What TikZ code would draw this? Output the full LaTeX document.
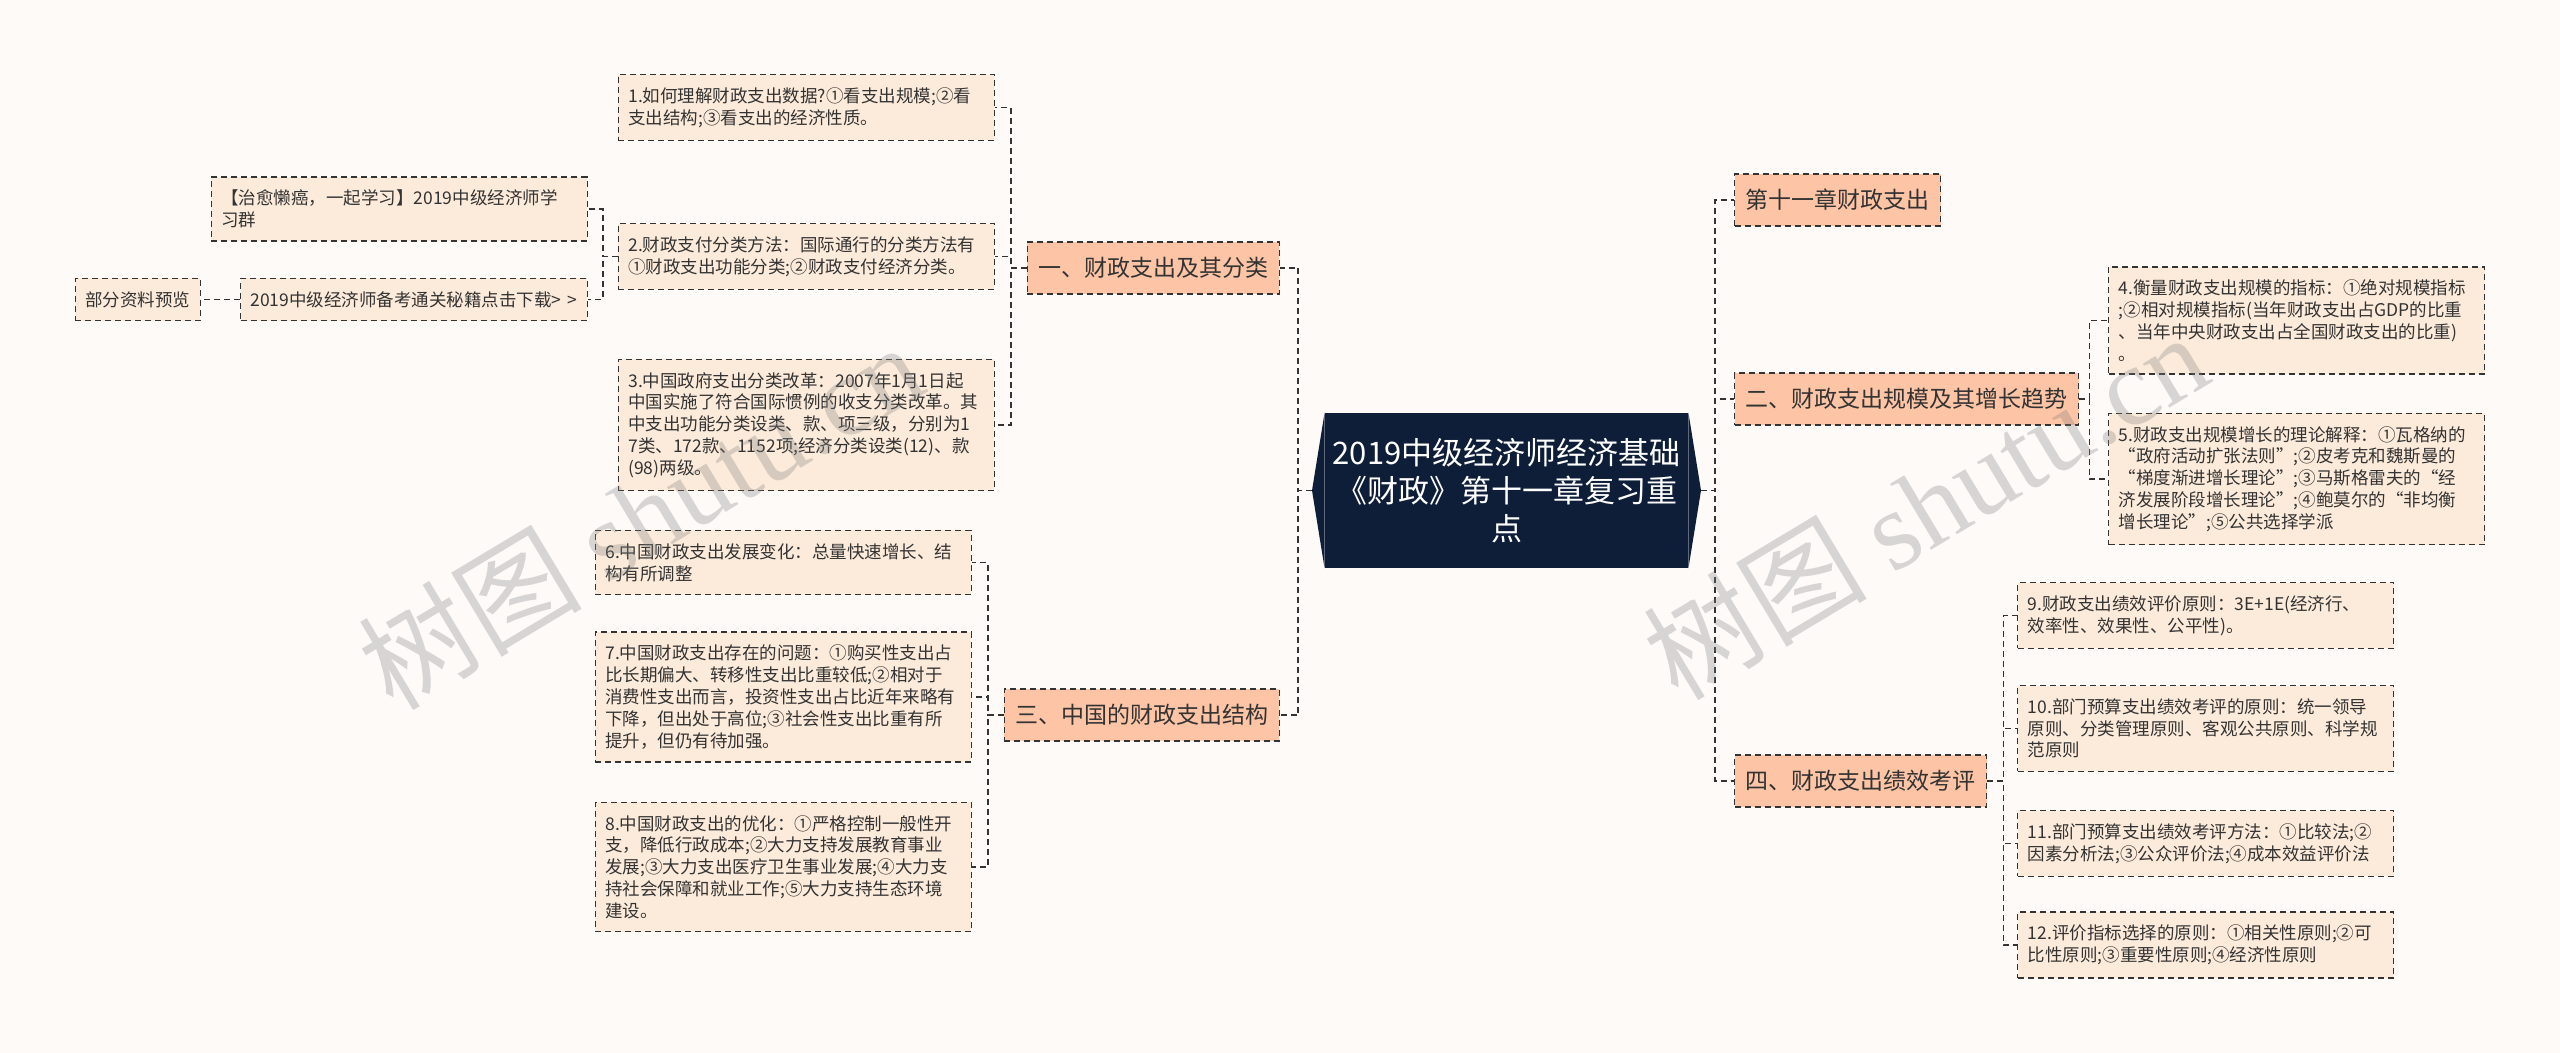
\documentclass[tikz,border=0pt]{standalone}
\usepackage{fontspec}
\setmainfont{Noto Sans CJK SC}
\newfontfamily\wmfont{Liberation Serif}
\usepackage{tikz}
\definecolor{bgc}{HTML}{FDFAF8}
\definecolor{leafc}{HTML}{FCEBDA}
\definecolor{branchc}{HTML}{FDC4A5}
\definecolor{rootc}{HTML}{0E1E38}
\definecolor{linec}{HTML}{333333}

\begin{document}
\begin{tikzpicture}[x=0.5pt,y=-0.5pt,
  leaf/.style={draw=linec,fill=leafc,dashed,dash pattern=on 3pt off 2pt,line width=.7pt,
    text=linec,font=\fontsize{8.75}{10.9}\selectfont,align=left,inner xsep=5pt,inner ysep=6.5pt},
  wide/.style={text width=178pt},
  branch/.style={draw=linec,fill=branchc,dashed,dash pattern=on 3pt off 2pt,line width=.7pt,
    text=linec,font=\fontsize{11.5}{13}\selectfont,inner xsep=5.5pt,minimum height=26pt},
  link/.style={draw=linec,dashed,dash pattern=on 3pt off 2pt,line width=.9pt},
  mark/.style={rotate=31,text=gray,text opacity=.3,font=\fontsize{56}{56}\selectfont}]
\useasboundingbox[fill=bgc](0,0)rectangle(2560,1053);
%root
\node[fill=rootc,text=white,minimum width=181.5pt,minimum height=77.5pt,text width=176pt,
  align=center,inner sep=2pt,font=\fontsize{15.5}{19}\selectfont] (root) at(1506.5,490.5)
  {2019中级经济师经济基础\\《财政》第十一章复习重\\点};
\coordinate (rootL) at(1312,490.5);
\coordinate (rootR) at(1701,490.5);
\fill[rootc](root.north west)--(rootL)--(root.south west)--cycle;
\fill[rootc](root.north east)--(rootR)--(root.south east)--cycle;
%branches
\node[branch,anchor=east] (b1) at(1280,268){一、财政支出及其分类};
\node[branch,anchor=east] (b3) at(1280,715){三、中国的财政支出结构};
\node[branch,anchor=west] (b0) at(1734,200){第十一章财政支出};
\node[branch,anchor=west] (b2) at(1734,399){二、财政支出规模及其增长趋势};
\node[branch,anchor=west] (b4) at(1734,781){四、财政支出绩效考评};
%left leaves
\node[leaf,wide,anchor=east] (l1) at(995,107.5){1.如何理解财政支出数据?①看支出规模;②看\\支出结构;③看支出的经济性质。};
\node[leaf,wide,anchor=east] (l2) at(995,256.5){2.财政支付分类方法：国际通行的分类方法有\\①财政支出功能分类;②财政支付经济分类。};
\node[leaf,wide,anchor=east] (l3) at(995,425){3.中国政府支出分类改革：2007年1月1日起\\中国实施了符合国际惯例的收支分类改革。其\\中支出功能分类设类、款、项三级，分别为1\\7类、172款、1152项;经济分类设类(12)、款\\(98)两级。};
\node[leaf,wide,anchor=east] (g1) at(588,209){【治愈懒癌，一起学习】2019中级经济师学\\习群};
\node[leaf,anchor=east] (g2) at(588,299.5){2019中级经济师备考通关秘籍点击下载>\hspace{3pt}>};
\node[leaf,anchor=east] (g0) at(201,299.5){部分资料预览};
\node[leaf,wide,anchor=east] (l6) at(972,562.5){6.中国财政支出发展变化：总量快速增长、结\\构有所调整};
\node[leaf,wide,anchor=east] (l7) at(972,697){7.中国财政支出存在的问题：①购买性支出占\\比长期偏大、转移性支出比重较低;②相对于\\消费性支出而言，投资性支出占比近年来略有\\下降，但出处于高位;③社会性支出比重有所\\提升，但仍有待加强。};
\node[leaf,wide,anchor=east] (l8) at(972,867){8.中国财政支出的优化：①严格控制一般性开\\支，降低行政成本;②大力支持发展教育事业\\发展;③大力支出医疗卫生事业发展;④大力支\\持社会保障和就业工作;⑤大力支持生态环境\\建设。};
%right leaves
\node[leaf,wide,anchor=west] (r4) at(2108,320.5){4.衡量财政支出规模的指标：①绝对规模指标\\;②相对规模指标(当年财政支出占GDP的比重\\、当年中央财政支出占全国财政支出的比重)\\。};
\node[leaf,wide,anchor=west] (r5) at(2108,479){5.财政支出规模增长的理论解释：①瓦格纳的\\“政府活动扩张法则”;②皮考克和魏斯曼的\\“梯度渐进增长理论”;③马斯格雷夫的“经\\济发展阶段增长理论”;④鲍莫尔的“非均衡\\增长理论”;⑤公共选择学派};
\node[leaf,wide,anchor=west] (r9) at(2017,615.5){9.财政支出绩效评价原则：3E+1E(经济行、\\效率性、效果性、公平性)。};
\node[leaf,wide,anchor=west] (r10) at(2017,728.5){10.部门预算支出绩效考评的原则：统一领导\\原则、分类管理原则、客观公共原则、科学规\\范原则};
\node[leaf,wide,anchor=west] (r11) at(2017,843.5){11.部门预算支出绩效考评方法：①比较法;②\\因素分析法;③公众评价法;④成本效益评价法};
\node[leaf,wide,anchor=west] (r12) at(2017,945){12.评价指标选择的原则：①相关性原则;②可\\比性原则;③重要性原则;④经济性原则};
%links
\draw[link](rootL)--++(-14,0)|-(b1.east);
\draw[link](rootL)--++(-14,0)|-(b3.east);
\draw[link](rootR)--++(14,0)|-(b0.west);
\draw[link](rootR)--++(14,0)|-(b2.west);
\draw[link](rootR)--++(14,0)|-(b4.west);
\draw[link](b1.west)--++(-16,0)|-(l1.east);
\draw[link](b1.west)--++(-16,0)|-(l2.east);
\draw[link](b1.west)--++(-16,0)|-(l3.east);
\draw[link](l2.west)--++(-15,0)|-(g1.east);
\draw[link](l2.west)--++(-15,0)|-(g2.east);
\draw[link](g2.west)--(g0.east);
\draw[link](b3.west)--++(-16,0)|-(l6.east);
\draw[link](b3.west)--++(-16,0)|-(l7.east);
\draw[link](b3.west)--++(-16,0)|-(l8.east);
\draw[link](b2.east)--++(10,0)|-(r4.west);
\draw[link](b2.east)--++(10,0)|-(r5.west);
\draw[link](b4.east)--++(16,0)|-(r9.west);
\draw[link](b4.east)--++(16,0)|-(r10.west);
\draw[link](b4.east)--++(16,0)|-(r11.west);
\draw[link](b4.east)--++(16,0)|-(r12.west);
%watermark
\node[mark=] (wm1) at(640,515){树图 {\wmfont shutu.cn}};
\node[mark=] (wm2) at(1925,505){树图 {\wmfont shutu.cn}};
\end{tikzpicture}
\end{document}
